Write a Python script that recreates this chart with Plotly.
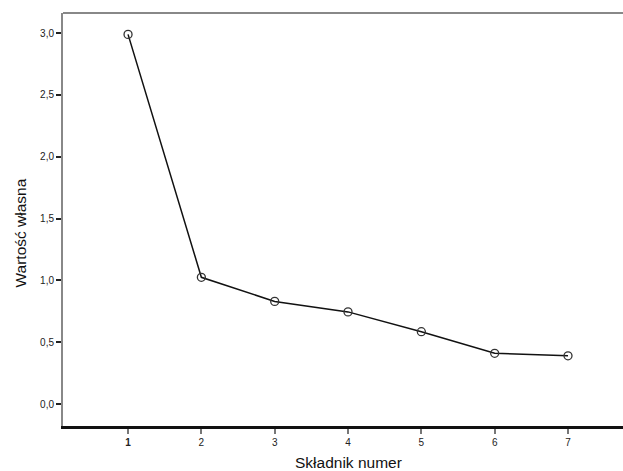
import plotly.graph_objects as go

components = [1, 2, 3, 4, 5, 6, 7]
eigenvalues = [2.99, 1.025, 0.83, 0.745, 0.585, 0.41, 0.39]
x_tick_vals = [1, 2, 3, 4, 5, 6, 7]
x_tick_text = ["<b>1</b>", "2", "3", "4", "5", "6", "7"]
y_tick_vals = [0.0, 0.5, 1.0, 1.5, 2.0, 2.5, 3.0]
x_title = "Składnik numer"
y_title = "Wartość własna"

L, R, T, B = 63, 623, 13, 426
W, H = 623, 471
pw, ph = R - L, B - T

fig = go.Figure()
fig.add_trace(go.Scatter(
    x=components, y=eigenvalues, mode="lines+markers",
    line=dict(color="#111111", width=1.5),
    marker=dict(symbol="circle-open", size=8, color="#333333", line=dict(width=1.3)),
    showlegend=False,
))

fig.update_layout(
    width=W, height=H,
    margin=dict(l=L, r=W - R, t=T, b=H - B, pad=0),
    paper_bgcolor="white", plot_bgcolor="white",
    separators=", ",
    font=dict(family="Liberation Sans, Arial, sans-serif", color="#222222"),
    xaxis=dict(
        range=[0.113, 7.75], tickvals=x_tick_vals, ticktext=x_tick_text,
        showgrid=False, zeroline=False,
        showline=True, linecolor="#111111", linewidth=2.5,
        ticks="outside", ticklen=5, tickwidth=2, tickcolor="#777777",
        tickfont=dict(size=10),
    ),
    yaxis=dict(
        range=[-0.178, 3.163], tickvals=y_tick_vals, tickformat=".1f",
        showgrid=False, zeroline=False,
        showline=True, linecolor="#888888", linewidth=2,
        ticks="outside", ticklen=5, tickwidth=1.5, tickcolor="#222222",
        tickfont=dict(size=10),
    ),
    shapes=[dict(type="line", xref="paper", yref="paper", x0=0, x1=1, y0=1, y1=1,
                 line=dict(color="#888888", width=2))],
    annotations=[
        dict(text=x_title, xref="paper", yref="paper",
             x=(348 - L) / pw, y=(B - 462) / ph, xanchor="center", yanchor="middle",
             showarrow=False, font=dict(size=15.5, color="#111111")),
        dict(text=y_title, xref="paper", yref="paper", textangle=-90,
             x=(19.5 - L) / pw, y=(B - 233) / ph, xanchor="center", yanchor="middle",
             showarrow=False, font=dict(size=15.5, color="#111111")),
    ],
)

fig.write_html("out.html", config={"displayModeBar": False},
               post_script="document.body.style.margin='0';")
